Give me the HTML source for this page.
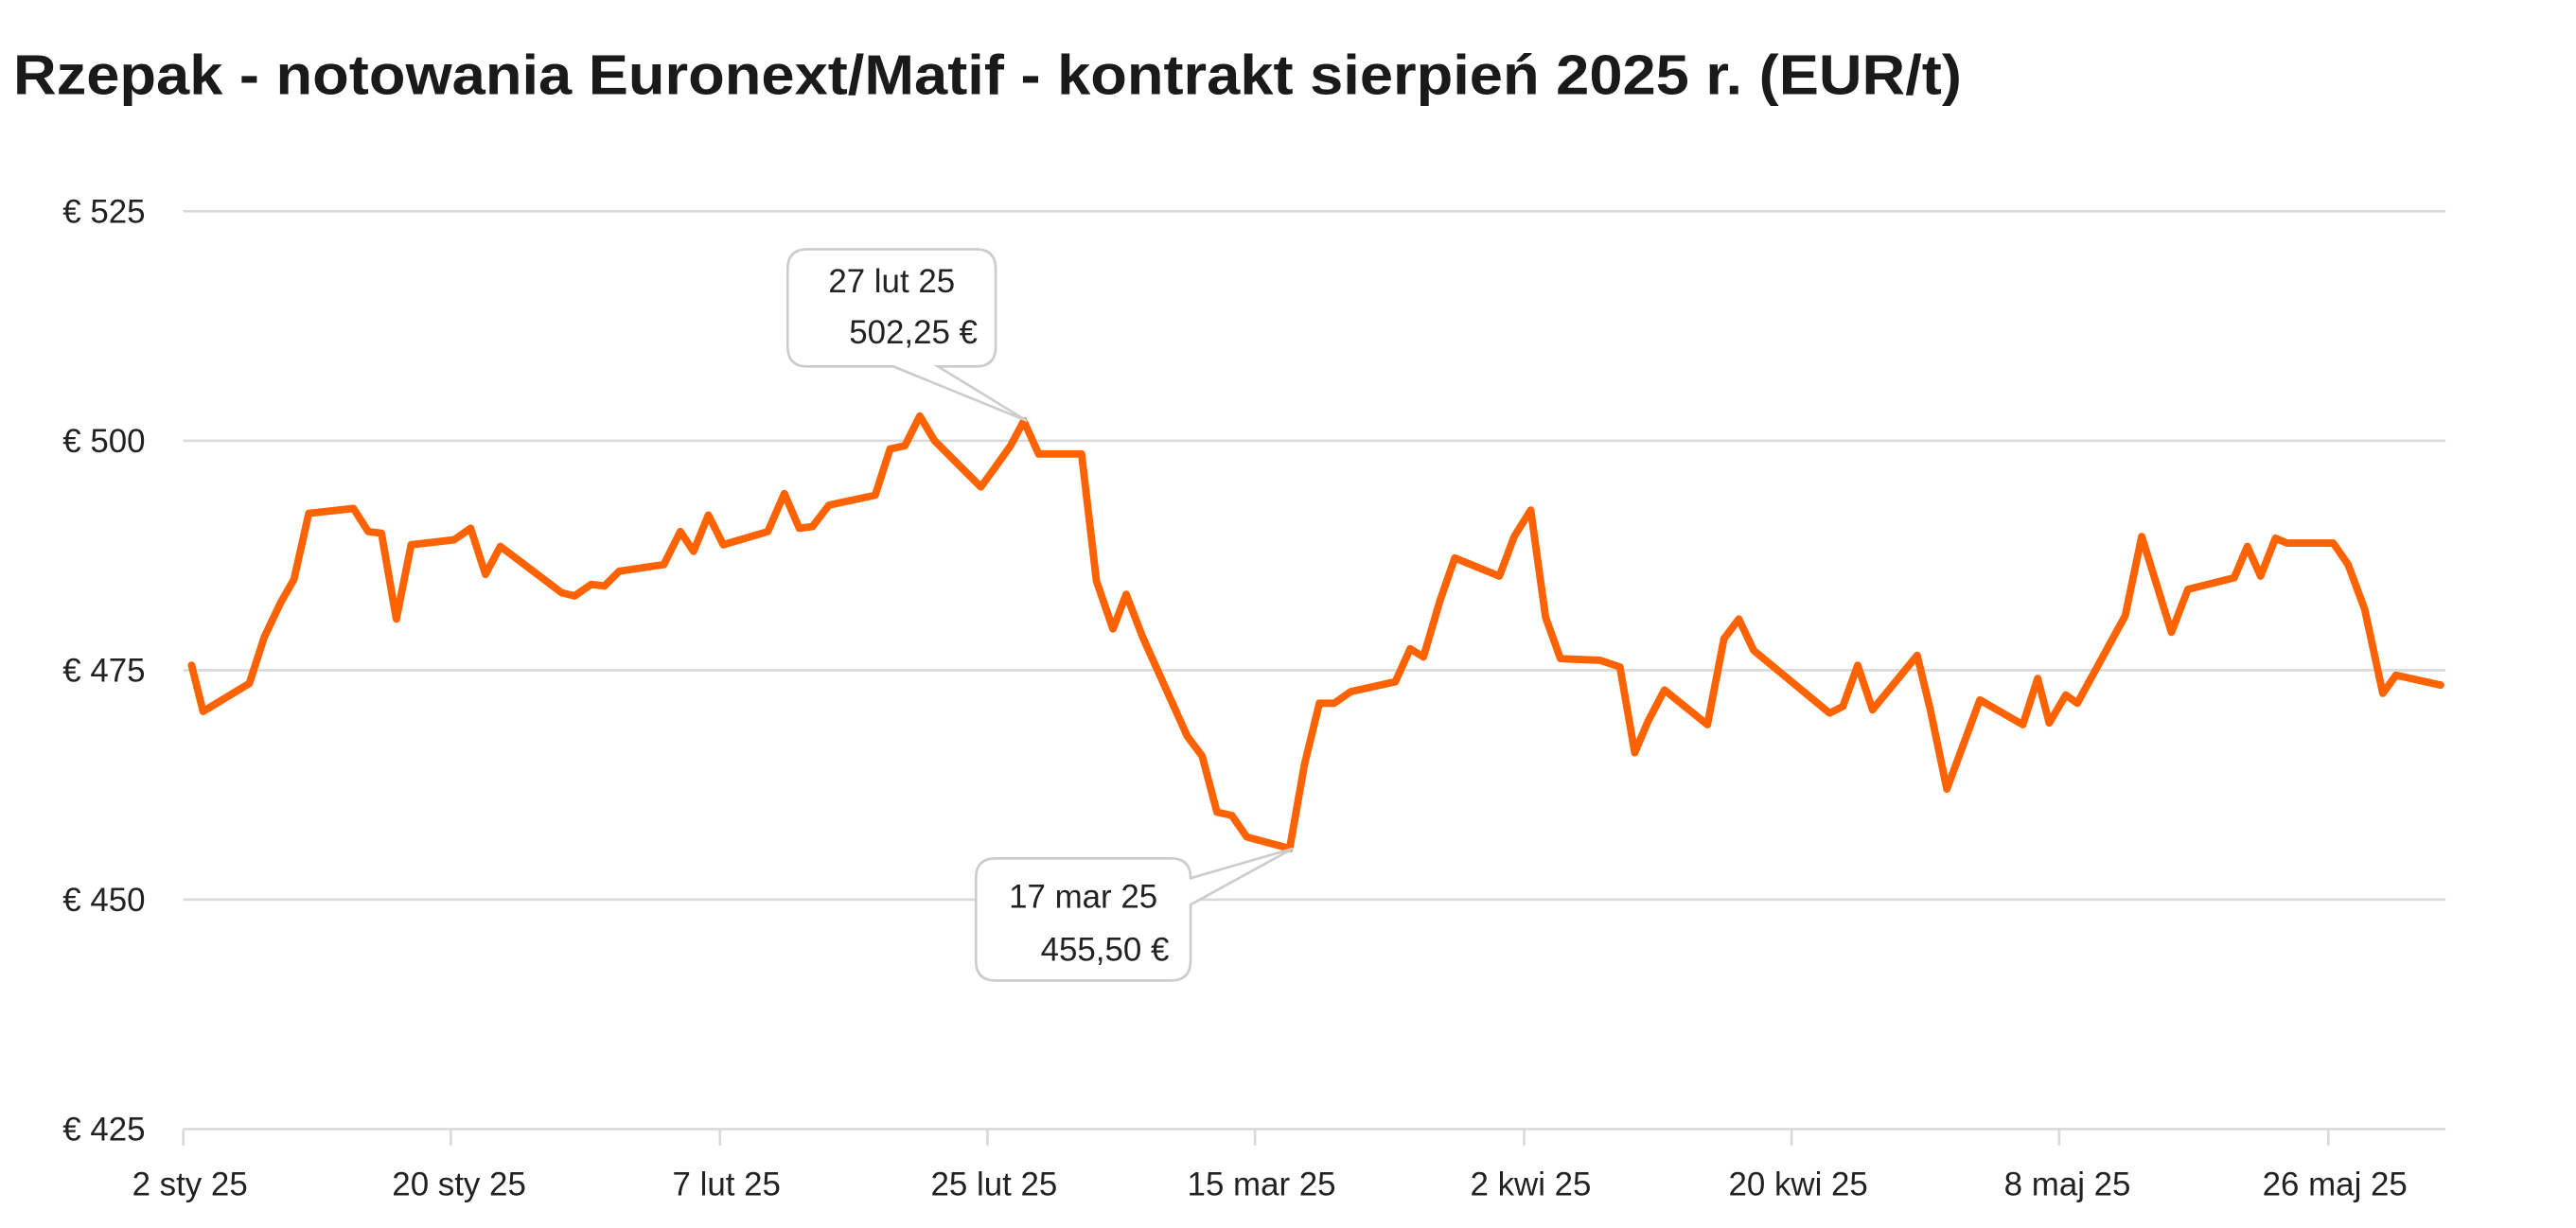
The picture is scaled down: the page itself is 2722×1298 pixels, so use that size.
<!DOCTYPE html>
<html><head><meta charset="utf-8"><style>
html,body{margin:0;padding:0;background:#fff;}
svg{display:block;}
text{font-family:"Liberation Sans",sans-serif;}
</style></head><body>
<svg width="2722" height="1298" viewBox="0 0 1560 743.9" xmlns="http://www.w3.org/2000/svg">
<text x="8" y="57" font-size="34" font-weight="bold" fill="#1a1a1a" textLength="1180" lengthAdjust="spacingAndGlyphs">Rzepak - notowania Euronext/Matif - kontrakt sierpień 2025 r. (EUR/t)</text>
<g stroke="#d9d9d9" stroke-width="1.5">
<line x1="111" y1="128" x2="1481" y2="128"/>
<line x1="111" y1="267" x2="1481" y2="267"/>
<line x1="111" y1="406" x2="1481" y2="406"/>
<line x1="111" y1="545" x2="1481" y2="545"/>
<line x1="111" y1="684" x2="1481" y2="684"/>
<line x1="111" y1="684" x2="111" y2="694"/>
<line x1="273" y1="684" x2="273" y2="694"/>
<line x1="436" y1="684" x2="436" y2="694"/>
<line x1="598" y1="684" x2="598" y2="694"/>
<line x1="760" y1="684" x2="760" y2="694"/>
<line x1="923" y1="684" x2="923" y2="694"/>
<line x1="1085" y1="684" x2="1085" y2="694"/>
<line x1="1247" y1="684" x2="1247" y2="694"/>
<line x1="1410" y1="684" x2="1410" y2="694"/>
</g>
<g font-size="20" fill="#222" text-anchor="end">
<text x="88" y="135">€ 525</text>
<text x="88" y="274">€ 500</text>
<text x="88" y="413">€ 475</text>
<text x="88" y="552">€ 450</text>
<text x="88" y="691">€ 425</text>
</g>
<g font-size="20" fill="#222" text-anchor="middle">
<text x="115" y="724">2 sty 25</text>
<text x="278" y="724">20 sty 25</text>
<text x="440" y="724">7 lut 25</text>
<text x="602" y="724">25 lut 25</text>
<text x="764" y="724">15 mar 25</text>
<text x="927" y="724">2 kwi 25</text>
<text x="1089" y="724">20 kwi 25</text>
<text x="1252" y="724">8 maj 25</text>
<text x="1414" y="724">26 maj 25</text>
</g>
<polyline fill="none" stroke="#ff6200" stroke-width="4.5" stroke-linejoin="round" stroke-linecap="round" points="116,403 123,431 151,414 160,386 170,365 178,351 187,311 214,308 223,322 231,323 240,375 249,330 275,327 285,320 294,348 303,331 340,359 348,361 358,354 366,355 375,346 402,342 412,322 420,334 429,312 438,330 465,322 475,299 484,320 492,319 502,306 530,300 539,272 548,270 557,252 566,267 594,295 602,284 612,270 620,255 629,275 655,275 664,352 674,381 682,360 692,386 719,446 728,458 737,492 746,494 755,507 781,514 790,463 799,426 808,426 818,419 845,413 854,393 862,398 872,364 881,338 908,349 917,325 927,309 936,374 945,399 969,400 981,404 990,456 998,437 1008,418 1034,439 1044,387 1053,375 1062,394 1108,432 1116,428 1125,403 1134,430 1161,397 1169,430 1179,478 1199,424 1225,439 1234,411 1241,438 1251,421 1258,426 1287,373 1297,325 1315,383 1325,357 1353,350 1361,331 1369,349 1378,326 1385,329 1413,329 1422,342 1432,369 1443,420 1451,409 1478,415"/>
<path d="M489,151 H591 Q603,151 603,163 V210 Q603,222 591,222 H568 L622,255 L541,222 H489 Q477,222 477,210 V163 Q477,151 489,151 Z" fill="#fff" stroke="#cccccc" stroke-width="1.5"/>
<text x="540" y="177" font-size="20" fill="#222" text-anchor="middle">27 lut 25</text>
<text x="592" y="208" font-size="20" fill="#222" text-anchor="end">502,25 €</text>
<path d="M603,520 H709 Q721,520 721,532 L783,514 L721,548 V582 Q721,594 709,594 H603 Q591,594 591,582 V532 Q591,520 603,520 Z" fill="#fff" stroke="#cccccc" stroke-width="1.5"/>
<text x="656" y="550" font-size="20" fill="#222" text-anchor="middle">17 mar 25</text>
<text x="708" y="582" font-size="20" fill="#222" text-anchor="end">455,50 €</text>
</svg>
</body></html>
